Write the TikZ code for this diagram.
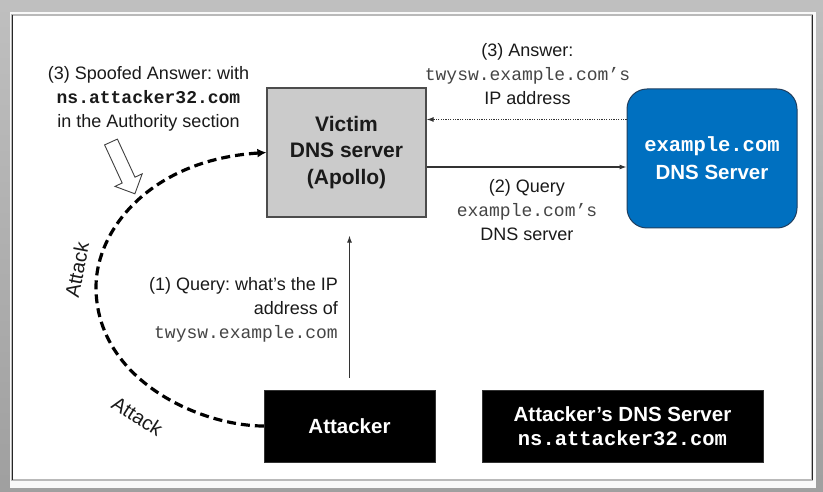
\documentclass[tikz,border=0pt]{standalone}
\usepackage{fontspec}
\setmainfont{Liberation Sans}
\newfontfamily\courf{Liberation Mono}
\usetikzlibrary{arrows.meta}
\definecolor{bluebox}{HTML}{0070C0}
\definecolor{blueedge}{HTML}{1F3F60}
\definecolor{victimfill}{HTML}{CBCBCB}
\definecolor{txt}{HTML}{1A1A1A}
\definecolor{monotxt}{HTML}{454545}
\frenchspacing
\begin{document}
\begin{tikzpicture}[x=1pt,y=-1pt,
  lbl/.style={font=\fontsize{18}{24}\selectfont, text=txt, inner sep=0pt, align=center},
  boxtxt/.style={font=\fontsize{20.5}{27}\selectfont\bfseries, align=center, inner sep=0pt},
  conn/.style={draw=black!80, line width=1.1pt, -{Latex[length=7pt,width=5pt]}},
  attackline/.style={draw=black, line width=3.2pt, dash pattern=on 9pt off 5pt, -{Latex[length=9pt,width=9pt]}},
  attlbl/.style={font=\fontsize{20}{24}\selectfont, text=txt, inner sep=0pt}
]
\useasboundingbox (0,0) rectangle (823,492);
% frame
\fill[top color=gray!50, bottom color=gray!75] (0,0) rectangle (823,492);
\fill[white!95!gray] (10,12) rectangle (816,488);
\draw[fill=white, draw=gray!55, line width=1.6pt] (12,15) rectangle (812,480);
\draw[black!85, line width=0.9pt] (12,15) -- (12,480);
\draw[black!85, line width=0.9pt] (812,15) -- (812,480);

% boxes
\node[boxtxt, draw=gray!60!black, fill=victimfill, line width=1.2pt, text=txt,
      minimum width=159pt, minimum height=129pt, font=\fontsize{21}{26.5}\selectfont\bfseries]
  (victim) at (346.5,152.5) {Victim\\DNS server\\(Apollo)};
\node[boxtxt, draw=blueedge, fill=bluebox, line width=1pt, rounded corners=20pt, text=white,
      minimum width=170pt, minimum height=139pt, font=\fontsize{20.5}{28}\selectfont\bfseries]
  (ex) at (712,158.5) {{\courf\bfseries example.com}\\DNS Server};
\node[boxtxt, draw=gray!40!black, fill=black, text=white, minimum width=171pt, minimum height=72pt]
  (att) at (349.5,426) {Attacker};
\node[boxtxt, draw=gray!40!black, fill=black, text=white, minimum width=281pt, minimum height=72pt,
      font=\fontsize{20.5}{24}\selectfont\bfseries]
  (attdns) at (622.5,426) {Attacker’s DNS Server\\{\courf\bfseries ns.attacker32.com}};

% labels
\node[lbl] (ans) at (527.5,74) {(3) Answer:\\{\courf\color{monotxt}twysw.example.com’s}\\IP address};
\node[lbl] (qry2) at (527,209.6) {(2) Query\\{\courf\color{monotxt}example.com’s}\\DNS server};
\node[lbl, align=right, anchor=east] (qry1) at (338,309.4) {(1) Query: what’s the IP\\address of\\{\courf\color{monotxt}twysw.example.com}};
\node[lbl] (spoof) at (148.5,99.3) {(3) Spoofed Answer: with\\{\courf\bfseries ns.attacker32.com}\\in the Authority section};
\node[attlbl, rotate=79] (atk1) at (77,270) {Attack};
\node[attlbl, rotate=-32.5] (atk2) at (137.5,416) {Attack};

% connectors
\draw[conn] ([yshift=12pt]att.north) -- ([yshift=-18pt]att.north |- victim.south);
\draw[conn] ([yshift=-14.5pt]victim.east) -- ([yshift=-14.5pt]victim.east -| ex.west);
\draw[conn, dash pattern=on 1.2pt off 1.2pt] ([yshift=33pt]victim.east -| ex.west) -- ([yshift=33pt]victim.east);
\coordinate (bend) at (96,287);
\draw[attackline] (att.west) .. controls (200,426) and (96,380) .. (bend)
      .. controls (96,230) and (150,160) .. (victim.west);

% hollow block arrow
\draw[fill=white, draw=black!75, line width=0.9pt]
  (117.4,139.1) -- (135,177.2) -- (142.2,173.8) -- (134.9,193.8) -- (115,186.4) -- (122.2,183) -- (104.6,144.9) -- cycle;
\end{tikzpicture}
\end{document}
